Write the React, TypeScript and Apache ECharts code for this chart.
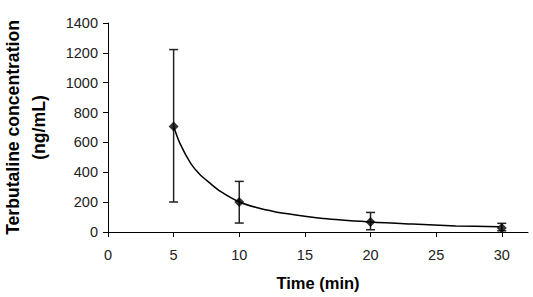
import React, { useEffect, useRef } from "react";
import * as echarts from "echarts";

// Observed data (mean with error bars)
const times = [5, 10, 20, 30];
const means = [707, 201, 67, 27];
const lower = [201, 60, 15, 8];
const upper = [1222, 339, 131, 58];

// Fitted curve
const fitX = [5, 5.5, 6.3, 7, 7.7, 8.6, 10, 11.4, 12.7, 13.7, 16.4, 20, 23.2, 26.5, 29.8];
const fitY = [707, 590, 460, 385, 332, 270, 201, 162, 136, 122, 90, 67, 53, 41, 35];

const xTicks = [0, 5, 10, 15, 20, 25, 30];

export default function App() {
  const ref = useRef<HTMLDivElement>(null);
  useEffect(() => {
    document.body.style.margin = "0";
    if (!ref.current) return;
    const chart = echarts.init(ref.current, undefined, { renderer: "svg" });
    const font = "'Liberation Sans', Arial, sans-serif";
    chart.setOption({
      animation: false,
      grid: { left: 108, right: 5, top: 23, bottom: 65, outerBoundsMode: "none", containLabel: false },
      xAxis: {
        type: "value",
        min: 0,
        max: 32,
        interval: 5,
        name: "Time (min)",
        nameLocation: "middle",
        nameGap: 42,
        nameTextStyle: { fontFamily: font, fontWeight: "bold", fontSize: 16.5, color: "#000" },
        axisLine: { lineStyle: { color: "#000", width: 1 } },
        axisTick: { show: true, length: 5, lineStyle: { color: "#000" }, customValues: xTicks },
        axisLabel: { fontFamily: font, fontSize: 14.5, color: "#222", margin: 15, customValues: xTicks, formatter: (v: number) => String(v) },
        splitLine: { show: false },
      },
      yAxis: {
        type: "value",
        min: 0,
        max: 1400,
        interval: 200,
        name: "Terbutaline concentration\n(ng/mL)",
        nameLocation: "middle",
        nameGap: 56,
        nameTextStyle: { fontFamily: font, fontWeight: "bold", fontSize: 17.6, color: "#000", lineHeight: 26, padding: [0, 0, 0, 0] },
        axisLine: { show: true, lineStyle: { color: "#000", width: 1 } },
        axisTick: { show: true, length: 5, lineStyle: { color: "#000" } },
        axisLabel: { fontFamily: font, fontSize: 14.5, color: "#222", margin: 10, formatter: (v: number) => String(v) },
        splitLine: { show: false },
      },
      series: [
        {
          type: "line",
          data: fitX.map((x, i) => [x, fitY[i]]),
          smooth: 0.3,
          showSymbol: false,
          symbol: "none",
          lineStyle: { color: "#000", width: 1.5 },
          z: 2,
        },
        {
          type: "custom",
          data: times.map((t, i) => [t, lower[i], upper[i]]),
          renderItem: (params: any, api: any) => {
            const x = api.value(0);
            const lo = api.coord([x, api.value(1)]);
            const hi = api.coord([x, api.value(2)]);
            const hw = 4.5;
            const style = { stroke: "#222", lineWidth: 1.5 };
            return {
              type: "group",
              children: [
                { type: "line", shape: { x1: lo[0], y1: lo[1], x2: hi[0], y2: hi[1] }, style },
                { type: "line", shape: { x1: hi[0] - hw, y1: hi[1], x2: hi[0] + hw, y2: hi[1] }, style },
                { type: "line", shape: { x1: lo[0] - hw, y1: lo[1], x2: lo[0] + hw, y2: lo[1] }, style },
              ],
            };
          },
          z: 3,
        },
        {
          type: "scatter",
          data: times.map((t, i) => [t, means[i]]),
          symbol: "diamond",
          symbolSize: 10,
          itemStyle: { color: "#000" },
          z: 4,
        },
      ],
    });
    return () => chart.dispose();
  }, []);
  return <div ref={ref} style={{ width: 533, height: 297 }} />;
}
